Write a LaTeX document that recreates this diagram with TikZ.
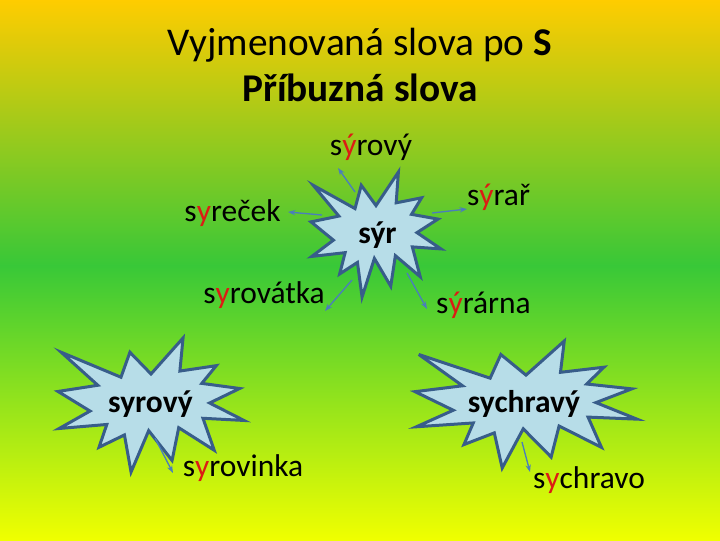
\documentclass[tikz,border=0pt]{standalone}
\usepackage{fontspec}
\setmainfont{Carlito}
\usetikzlibrary{arrows.meta}

\definecolor{bgtop}{RGB}{255,204,0}
\definecolor{bgmid}{RGB}{56,200,56}
\definecolor{bgbot}{RGB}{240,255,0}
\definecolor{starfill}{RGB}{183,221,232}
\definecolor{starline}{RGB}{56,93,138}
\definecolor{linkblue}{RGB}{74,126,187}
\definecolor{ycol}{RGB}{220,28,20}

\tikzset{every picture/.style={line width=0.75pt}}
\tikzset{
  boomshape/.style={draw=starline, fill=starfill, line width=2.25pt, line join=miter, miter limit=6},
  word/.style={anchor=base, font=\fontsize{23.6}{28}\selectfont},
  boomword/.style={anchor=base, font=\fontsize{23.6}{28}\selectfont\bfseries},
  titletext/.style={anchor=base, font=\fontsize{29.5}{35}\selectfont},
  link/.style={draw=linkblue, line width=1pt, -{Stealth[length=5.5pt,width=4pt]}}
}

% explosion outline, #1,#2 = top left corner, #3 = width, #4 = height
\newcommand{\boom}[4]{%
  \begin{scope}[shift={(#1,#2)}, xscale={#3/216}, yscale={#4/216}]
    \path[boomshape] (108,58) -- (145.22,0) -- (141.55,53.25) -- (183.8,44.57)
      -- (167.02,73.15) -- (210.97,81.37) -- (176.07,104.75) -- (216,132.9)
      -- (168.37,129.42) -- (181.45,180.95) -- (140.2,144.57) -- (132.47,197.37)
      -- (105.32,149.35) -- (84.85,216) -- (77.15,156.27) -- (47.62,176.17)
      -- (56.67,139.37) -- (1.35,145.87) -- (37.22,117.75) -- (0,86.15)
      -- (46.27,76.17) -- (3.7,22.95) -- (73.12,63.2) -- (83.52,22.95) -- cycle;
  \end{scope}}
\newcommand{\yy}[1]{\textcolor{ycol}{#1}}

\begin{document}
\begin{tikzpicture}[x=0.75pt,y=0.75pt,yscale=-1,xscale=1]
	%background
	\useasboundingbox (0,0) rectangle (720,540);
	\shade[top color=bgtop, bottom color=bgmid] (0,0) rectangle (720,266);
	\shade[top color=bgmid, bottom color=bgbot] (0,265) rectangle (720,540);

	%title
	\node[titletext] (title1) at (360,55) {Vyjmenovaná slova po \textbf{S}};
	\node[titletext] (title2) at (360,101) {\textbf{Příbuzná slova}};

	%explosions
	\boom{311}{172}{130}{125}
	\boom{58}{338}{186}{134}
	\boom{415}{341}{222}{127}

	% Text Node
	\node[boomword] (syr) at (377.5,243) {sýr};
	\node[boomword] (syrovy2) at (150.5,412) {syrový};
	\node[boomword] (sychravy) at (524,412) {sychravý};

	\node[word] (syrovy) at (371,155) {s\yy{ý}rový};
	\node[word] (syrecek) at (232.5,221) {s\yy{y}reček};
	\node[word] (syrovatka) at (264,303) {s\yy{y}rovátka};
	\node[word] (syrar) at (498.5,205) {s\yy{ý}rař};
	\node[word] (syrarna) at (483.5,313) {s\yy{ý}rárna};
	\node[word] (syrovinka) at (243,476) {s\yy{y}rovinka};
	\node[word] (sychravo) at (589,488) {s\yy{y}chravo};

	%connectors
	\coordinate (a1) at (355,192);  \coordinate (b1) at (338,168);
	\coordinate (a2) at (322,215);  \coordinate (b2) at (288,212);
	\coordinate (a3) at (352,280);  \coordinate (b3) at (325,311);
	\coordinate (a4) at (432,213);  \coordinate (b4) at (467,209);
	\coordinate (a5) at (407,273);  \coordinate (b5) at (427,309);
	\coordinate (a6) at (155,438);  \coordinate (b6) at (173,473);
	\coordinate (a7) at (522,442);  \coordinate (b7) at (530,472);
	\foreach \s/\t in {a1/b1,a2/b2,a3/b3,a4/b4,a5/b5,a6/b6,a7/b7}
		\draw[link] (\s) -- (\t);

\end{tikzpicture}
\end{document}
